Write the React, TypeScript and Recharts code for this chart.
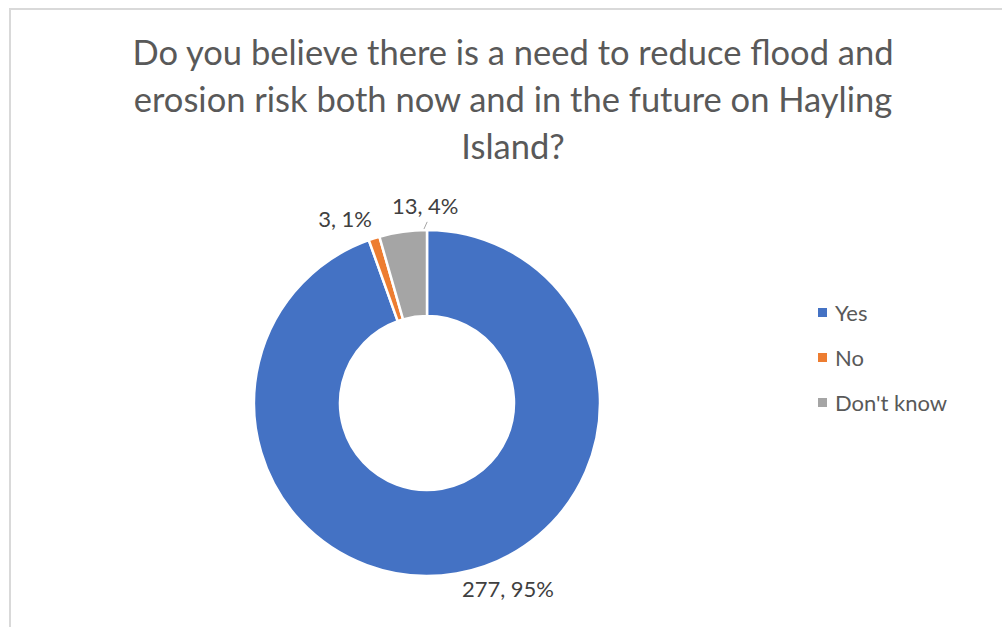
import { PieChart, Pie, Cell, Legend } from "recharts"

const categories = ["Yes", "No", "Don't know"]
const counts = [277, 3, 13]
const percents = ["95%", "1%", "4%"]
const colors = ["#4472c4", "#ed7d31", "#a5a5a5"]

const data = categories.map((name, i) => ({
  name,
  value: counts[i],
  label: `${counts[i]}, ${percents[i]}`,
  color: colors[i],
}))

const FONT = "Lato, 'Liberation Sans', sans-serif"
const RAD = Math.PI / 180

// nudges to mimic the best-fit label placement in the original
const labelNudge = [
  { dx: 48, dy: -5, anchor: "middle" },
  { dx: 4, dy: -1, anchor: "end" },
  { dx: 25, dy: -6, anchor: "middle" },
]

const renderLabel = (props: any) => {
  const { cx, cy, midAngle, outerRadius, index } = props
  const r = outerRadius + 20
  const x = cx + r * Math.cos(-midAngle * RAD)
  const y = cy + r * Math.sin(-midAngle * RAD)
  const n = labelNudge[index]
  const tx = x + n.dx
  const ty = y + n.dy
  return (
    <g>
      {index === 2 && (
        <line
          x1={cx + (outerRadius + 1) * Math.cos(-91 * RAD)}
          y1={cy + (outerRadius + 1) * Math.sin(-91 * RAD)}
          x2={tx + 2}
          y2={ty + 16}
          stroke="#a6a6a6"
          strokeWidth={1}
        />
      )}
      <text
        x={tx}
        y={ty}
        textAnchor={n.anchor as any}
        dominantBaseline="central"
        fill="#404040"
        fontSize={22}
        fontFamily={FONT}
      >
        {data[index].label}
      </text>
    </g>
  )
}

const renderLegend = () => (
  <div style={{ fontFamily: FONT }}>
    {data.map((d) => (
      <div
        key={d.name}
        style={{ display: "flex", alignItems: "center", height: 45, color: "#595959", fontSize: 22 }}
      >
        <span style={{ display: "inline-block", width: 9, height: 9, background: d.color, marginRight: 8 }} />
        {d.name}
      </div>
    ))}
  </div>
)

export default function App() {
  return (
    <div style={{ position: "absolute", left: 0, top: 0, width: 1002, height: 627, background: "#fff", overflow: "hidden" }}>
      <div
        style={{
          position: "absolute",
          left: 9,
          top: 8,
          width: 1100,
          height: 700,
          borderLeft: "2px solid #d9d9d9",
          borderTop: "2px solid #d9d9d9",
        }}
      />
      <div
        style={{
          position: "absolute",
          left: 0,
          top: 28,
          width: 1026,
          textAlign: "center",
          fontFamily: FONT,
          fontSize: 34.5,
          lineHeight: "47px",
          color: "#595959",
        }}
      >
        Do you believe there is a need to reduce flood and
        <br />
        erosion risk both now and in the future on Hayling
        <br />
        Island?
      </div>
      <div style={{ position: "absolute", left: 0, top: 0 }}>
        <PieChart width={1002} height={627} margin={{ top: 0, right: 0, bottom: 0, left: 0 }}>
          <Pie
            data={data}
            dataKey="value"
            nameKey="name"
            cx={427}
            cy={403}
            innerRadius={87}
            outerRadius={173}
            startAngle={90}
            endAngle={-270}
            stroke="#ffffff"
            strokeWidth={2.5}
            label={renderLabel}
            labelLine={false}
            isAnimationActive={false}
          >
            {data.map((d, i) => (
              <Cell key={`cell-${i}`} fill={d.color} />
            ))}
          </Pie>
          <Legend
            layout="vertical"
            verticalAlign="top"
            align="right"
            content={renderLegend}
            wrapperStyle={{ left: 818, top: 290, width: 180 }}
          />
        </PieChart>
      </div>
    </div>
  )
}
